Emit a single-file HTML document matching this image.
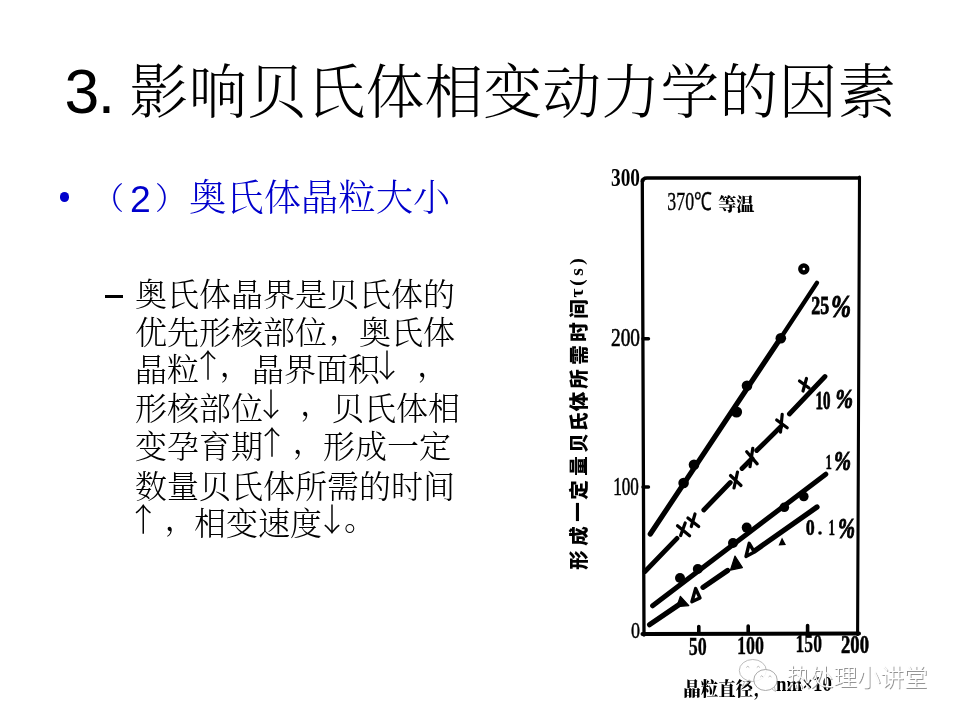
<!DOCTYPE html>
<html><head><meta charset="utf-8">
<style>
html,body{margin:0;padding:0;background:#fff;}
body{width:960px;height:720px;position:relative;overflow:hidden;}
.t{position:absolute;white-space:nowrap;}
.tl{font-size:62.5px;letter-spacing:-1.5px;line-height:70px;font-family:'Liberation Sans',sans-serif;color:#000;}
.tc{font-size:58.67px;letter-spacing:0.35px;line-height:70px;font-family:'Liberation Serif','Noto Serif CJK SC',serif;font-weight:300;color:#000;}
#bul{left:59.8px;top:192.2px;width:9.5px;height:9.5px;border-radius:50%;background:#0000cc;position:absolute;}
.bl{will-change:transform;font-size:37.33px;line-height:44.8px;font-family:'Liberation Serif','Noto Serif CJK SC',serif;font-weight:300;color:#0000cc;}
#dash{left:105px;top:295.3px;width:18px;height:3px;background:#000;position:absolute;}
.b{font-size:32px;line-height:38.4px;font-family:'Liberation Serif','Noto Serif CJK SC',serif;font-weight:300;color:#000;}
.ar{font-family:'Noto Serif CJK SC',serif;margin-top:-7px;font-weight:600;}
svg{position:absolute;left:0;top:0;}
.tl,.tc,.b,svg{filter:grayscale(1);}
.cm{position:relative;top:-5px;left:2px;}
.pd{position:relative;top:-4.5px;}
</style></head><body>
<div class="t tl" style="left:64.5px;top:55.5px;">3.</div>
<div class="t tc" style="left:129.5px;top:59px;">影响贝氏体相变动力学的因素</div>
<div id="bul"></div>
<div class="t bl" style="left:92.5px;top:180.4px;font-size:31px;line-height:37px;">（</div>
<div class="t bl" style="left:130px;top:177.4px;font-family:'Liberation Sans',sans-serif;">2</div>
<div class="t bl" style="left:155px;top:180.4px;font-size:31px;line-height:37px;">）</div>
<div class="t bl" style="left:188.6px;top:177.4px;">奥氏体晶粒大小</div>
<div id="dash"></div>
<div class="t b" style="left:135px;top:276.3px;">奥氏体晶界是贝氏体的</div>
<div class="t b" style="left:135px;top:314.2px;">优先形核部位<span class="cm">，</span>奥氏体</div>
<div class="t b" style="left:135px;top:351.1px;">晶粒</div>
<div class="t b ar" style="left:192px;top:351.1px;">↑</div>
<div class="t b" style="left:217.5px;top:351.1px;"><span class="cm">，</span></div>
<div class="t b" style="left:252px;top:351.1px;">晶界面积</div>
<div class="t b ar" style="left:371px;top:351.1px;">↓</div>
<div class="t b" style="left:415px;top:351.1px;"><span class="cm">，</span></div>
<div class="t b" style="left:135px;top:390.0px;">形核部位</div>
<div class="t b ar" style="left:255px;top:390.0px;">↓</div>
<div class="t b" style="left:298px;top:390.0px;"><span class="cm">，</span></div>
<div class="t b" style="left:332px;top:390.0px;">贝氏体相</div>
<div class="t b" style="left:135px;top:428.4px;">变孕育期</div>
<div class="t b ar" style="left:256px;top:428.4px;">↑</div>
<div class="t b" style="left:290.5px;top:428.4px;"><span class="cm">，</span></div>
<div class="t b" style="left:323px;top:428.4px;">形成一定</div>
<div class="t b" style="left:135px;top:467.8px;">数量贝氏体所需的时间</div>
<div class="t b ar" style="left:127.3px;top:504.7px;">↑</div>
<div class="t b" style="left:162.5px;top:504.7px;"><span class="cm">，</span></div>
<div class="t b" style="left:194px;top:504.7px;">相变速度</div>
<div class="t b ar" style="left:316px;top:504.7px;">↓</div>
<div class="t b" style="left:344px;top:504.7px;"><span class="pd">。</span></div>
<svg width="960" height="720" viewBox="0 0 960 720">
<g stroke="#000" fill="none" stroke-linecap="round">
  <!-- frame -->
  <path d="M642.3 180 L644 635" stroke-width="3.3"/>
  <path d="M642.4 182 Q642.6 178 647 178 L860 178" stroke-width="3.6" stroke-linecap="butt"/>
  <path d="M859.5 177 L857.6 634.5" stroke-width="3.1"/>
  <path d="M642.5 634 L859 633.5" stroke-width="4"/>
  <!-- ticks -->
  <path d="M643 338.8 L648.5 338.8 M643 487 L648.5 487" stroke-width="3.4"/>
  <path d="M698.8 633 L698.8 626.5 M748.2 633 L748.2 626 M807.6 633 L807.6 625.5" stroke-width="3.6"/>
  <!-- 25% line -->
  <path d="M650.3 534 L781 337.5" stroke-width="5.2"/>
  <path d="M781 337.5 L817 282.8" stroke-width="4.3"/>
  <!-- 10% dashed -->
  <path d="M645 571.5 L677 538.4 M703.8 510 L730.3 482.5 M742 468.5 L752 458.5 M756.7 450.5 L780.5 427 M789.4 414 L825 376.5" stroke-width="4.8"/>
  <!-- 1% line -->
  <path d="M652.6 605.8 L825.8 474.2" stroke-width="5"/>
  <!-- 0.1% line -->
  <path d="M649.6 624.7 L680 604 M703 587.3 L727.6 570.5 M755 550.6 L817 507" stroke-width="5.2"/>
</g>
<g fill="#000">
  <!-- 25% markers -->
  <circle cx="683.6" cy="483" r="5.3"/>
  <circle cx="694" cy="464.7" r="5.3"/>
  <circle cx="736.5" cy="412" r="5.6"/>
  <circle cx="747" cy="385.8" r="5.3"/>
  <circle cx="780.8" cy="338.3" r="5.3"/>
  <!-- 1% markers -->
  <circle cx="680" cy="578" r="5"/>
  <circle cx="697.8" cy="569" r="5"/>
  <circle cx="733" cy="543" r="5"/>
  <circle cx="746.7" cy="527.6" r="5"/>
  <circle cx="784.3" cy="507.3" r="4.8"/>
  <circle cx="803.8" cy="496.5" r="4.8"/>
  <!-- 0.1% filled triangles -->
  <path d="M680.4 596.3 L688.8 605.6 L676.8 606.7 Z" stroke="#000" stroke-width="1.2" stroke-linejoin="round"/>
  <path d="M735 556 L742.4 567.6 L730.4 570.2 Z" stroke="#000" stroke-width="1.2" stroke-linejoin="round"/>
  <path d="M782 537.5 L786 545 L778.5 545.5 Z"/>
</g>
<g fill="none" stroke="#000" stroke-width="2.6" stroke-linejoin="round">
  <circle cx="803.8" cy="269" r="3.5" stroke-width="4.4"/>
  <path d="M695.6 588.6 L700 597.9 L691.9 601.8 Z" stroke-width="3.4"/>
  <path d="M749.2 543.3 L754.4 552.1 L746 556.5 Z" stroke-width="3.4"/>
</g>
<g stroke="#000" stroke-width="3.2" fill="none" stroke-linecap="round">
  <!-- x markers on 10% -->
  <path d="M677.5 525.8 L689.6 535.8 M685.2 523 L680.6 535.6"/>
  <path d="M687.9 517.9 L698.7 526.5 M695 514 L691.3 526.5"/>
  <path d="M730.5 475.5 L741 485.5 M737.5 472 L734 488"/>
  <path d="M746.7 451.7 L757.2 463.9 M752.8 448.3 L750 466.7"/>
  <path d="M776.7 420 L787.2 427.8 M782.2 414.4 L780.5 432.2"/>
  <path d="M799.5 381 L809 388 M806.5 378.5 L803 391"/>
</g>
<g font-family="'Liberation Serif',serif" fill="#000" font-weight="bold">
  <text x="611" y="185.5" font-size="24.5" textLength="29" lengthAdjust="spacingAndGlyphs">300</text>
  <text x="611" y="345.6" font-size="24.5" textLength="29" lengthAdjust="spacingAndGlyphs" font-weight="normal" stroke="#000" stroke-width="0.6">200</text>
  <text x="613.3" y="495.4" font-size="25" textLength="25.6" lengthAdjust="spacingAndGlyphs" font-weight="normal" stroke="#000" stroke-width="0.6">100</text>
  <text x="631" y="637.5" font-size="24" textLength="9" lengthAdjust="spacingAndGlyphs" font-weight="normal" stroke="#000" stroke-width="0.5">0</text>
  <text x="688.7" y="655.2" font-size="25" textLength="18" lengthAdjust="spacingAndGlyphs" stroke="#000" stroke-width="0.3">50</text>
  <text x="737" y="654" font-size="25" textLength="27" lengthAdjust="spacingAndGlyphs" stroke="#000" stroke-width="0.3">100</text>
  <text x="795.5" y="652" font-size="24.5" textLength="26.5" lengthAdjust="spacingAndGlyphs" stroke="#000" stroke-width="0.3">150</text>
  <text x="841" y="653" font-size="24.5" textLength="28" lengthAdjust="spacingAndGlyphs" stroke="#000" stroke-width="0.6">200</text>
  <text x="667.3" y="210" font-size="25" textLength="44.7" lengthAdjust="spacingAndGlyphs" font-weight="normal" stroke="#000" stroke-width="0.35">370℃</text>
  <text x="811.3" y="313.8" font-size="25" stroke="#000" stroke-width="0.8" textLength="18" lengthAdjust="spacingAndGlyphs">25</text>
  <text x="815.5" y="408.9" font-size="24.2" stroke="#000" stroke-width="0.8" textLength="15" lengthAdjust="spacingAndGlyphs">10</text>
  <text x="825.8" y="468.8" font-size="21.5" stroke="#000" stroke-width="0.7" textLength="6" lengthAdjust="spacingAndGlyphs">1</text>
  <text x="805.8" y="535.4" font-size="23.5" stroke="#000" stroke-width="0.6" textLength="9" lengthAdjust="spacingAndGlyphs">0</text>
  <circle cx="820" cy="533" r="1.8"/>
  <text x="828.5" y="535.4" font-size="23.5" stroke="#000" stroke-width="0.4" textLength="6.5" lengthAdjust="spacingAndGlyphs">1</text>
</g>
<g font-family="'Liberation Serif',serif" font-weight="bold" font-style="italic" fill="#000" stroke="#000" stroke-width="1">
  <text x="831" y="316.5" font-size="31" textLength="20" lengthAdjust="spacingAndGlyphs">%</text>
  <text x="835.5" y="408" font-size="27" textLength="17.5" lengthAdjust="spacingAndGlyphs">%</text>
  <text x="834" y="469.5" font-size="28" textLength="17" lengthAdjust="spacingAndGlyphs">%</text>
  <text x="838" y="538" font-size="28.5" textLength="17" lengthAdjust="spacingAndGlyphs">%</text>
</g>
<g font-family="'Noto Serif CJK SC',serif" font-weight="900" fill="#000">
  <text x="718.3" y="211" font-size="18" textLength="36" lengthAdjust="spacingAndGlyphs">等温</text>
  <text x="683.3" y="696" font-size="19" textLength="76" lengthAdjust="spacingAndGlyphs">晶粒直径,</text>
</g>
<g font-family="'Liberation Serif',serif" font-weight="bold" fill="#000">
  <text x="776" y="691" font-size="20" textLength="56" lengthAdjust="spacingAndGlyphs">nm×10</text>
</g>
<g font-family="'Noto Sans CJK SC',sans-serif" font-weight="900" fill="#000" font-size="19.5" text-anchor="middle">
  <text transform="translate(586 560) rotate(-90)">形</text>
  <text transform="translate(586 536) rotate(-90)">成</text>
  <text transform="translate(584.5 512) rotate(-90)">一</text>
  <text transform="translate(586 490) rotate(-90)">定</text>
  <text transform="translate(586 466) rotate(-90)">量</text>
  <text transform="translate(586 443) rotate(-90)">贝</text>
  <text transform="translate(586 422) rotate(-90)">氏</text>
  <text transform="translate(586 401.5) rotate(-90)">体</text>
  <text transform="translate(586 379) rotate(-90)">所</text>
  <text transform="translate(586 355) rotate(-90)">需</text>
  <text transform="translate(586 332) rotate(-90)">时</text>
  <text transform="translate(586 309) rotate(-90)">间</text>
  <text transform="translate(583 293) rotate(-90)" font-family="'Liberation Serif',serif" font-weight="bold">τ</text>
  <text transform="translate(583 282.5) rotate(-90)" font-family="'Liberation Serif',serif" font-weight="bold">(</text>
  <text transform="translate(583 272) rotate(-90)" font-family="'Liberation Serif',serif" font-weight="bold">s</text>
  <text transform="translate(583 261.6) rotate(-90)" font-family="'Liberation Serif',serif" font-weight="bold">)</text>
</g>
<!-- watermark -->
<defs>
  <filter id="ds" x="-10%" y="-20%" width="120%" height="140%">
    <feDropShadow dx="0.9" dy="0.9" stdDeviation="0.35" flood-color="#7a7a7a" flood-opacity="0.9"/>
  </filter>
</defs>
<g stroke="#b4b4b4" stroke-width="0.9">
  <path d="M745 681 L742.5 686.5 L749 682.5" fill="rgba(255,255,255,0.8)"/>
  <ellipse cx="752.8" cy="670.5" rx="13.5" ry="11" fill="rgba(255,255,255,0.8)"/>
  <path d="M772 689 L775.5 691.5 L774.5 687" fill="rgba(255,255,255,0.85)"/>
  <ellipse cx="765.5" cy="680" rx="11.7" ry="10.5" fill="rgba(255,255,255,0.85)" stroke="#a0a0a0"/>
  <g fill="none" stroke="#a8a8a8" stroke-width="0.8">
    <path d="M746.3 667.5 Q747.8 665 749.3 667.5 M756.8 667.5 Q758.3 665 759.8 667.5"/>
    <path d="M760.3 677 Q761.7 674.5 763.1 677 M768.6 677 Q770 674.5 771.4 677"/>
  </g>
</g>
<text x="786.5" y="685.5" font-family="'Noto Sans CJK SC',sans-serif" font-weight="300" font-size="23.5" fill="#fff" filter="url(#ds)" textLength="141" lengthAdjust="spacingAndGlyphs">热处理小讲堂</text>
</svg>

</body></html>
